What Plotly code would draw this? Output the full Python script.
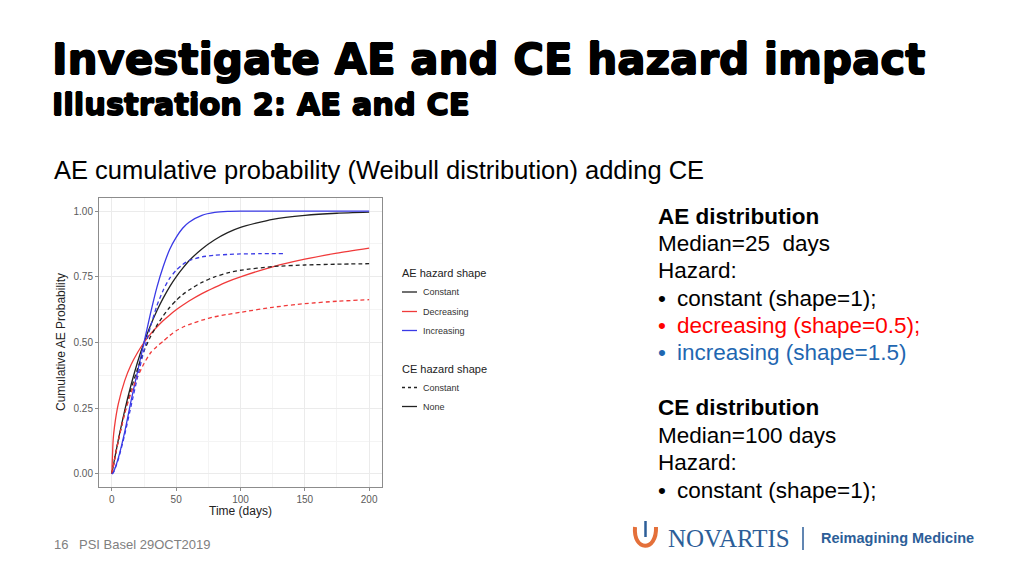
import plotly.graph_objects as go

# ---------------- data ----------------
time_days = [0, 1, 2, 5, 10, 15, 20, 25, 30, 35, 40, 45, 50, 55, 60, 70, 80, 90, 100, 125, 150, 175, 200]

ae_constant_no_ce = [0, 0.027, 0.054, 0.129, 0.242, 0.340, 0.426, 0.500, 0.565, 0.621, 0.670, 0.713, 0.750,
                     0.782, 0.811, 0.856, 0.891, 0.918, 0.938, 0.969, 0.984, 0.992, 0.996]
ae_decreasing_no_ce = [0, 0.129, 0.178, 0.266, 0.355, 0.416, 0.462, 0.500, 0.532, 0.559, 0.584, 0.605, 0.625,
                       0.642, 0.658, 0.686, 0.710, 0.732, 0.750, 0.788, 0.817, 0.840, 0.859]
ae_increasing_no_ce = [0, 0.005, 0.016, 0.060, 0.160, 0.280, 0.390, 0.500, 0.610, 0.710, 0.790, 0.855, 0.900,
                       0.935, 0.958, 0.984, 0.995, 0.999, 1.0, 1.0, 1.0, 1.0, 1.0]
ae_constant_ce = [0, 0.027, 0.054, 0.127, 0.234, 0.324, 0.400, 0.468, 0.522, 0.565, 0.602, 0.634, 0.660,
                  0.682, 0.700, 0.729, 0.750, 0.765, 0.775, 0.789, 0.795, 0.798, 0.800]
ae_decreasing_ce = [0, 0.025, 0.050, 0.125, 0.230, 0.310, 0.370, 0.420, 0.460, 0.485, 0.505, 0.527, 0.545,
                    0.558, 0.568, 0.585, 0.598, 0.607, 0.615, 0.634, 0.648, 0.657, 0.663]
time_days_inc_ce = [0, 1, 2, 5, 10, 15, 20, 25, 30, 35, 40, 45, 50, 55, 60, 70, 80, 90, 100, 115, 133]
ae_increasing_ce = [0, 0.004, 0.014, 0.055, 0.150, 0.260, 0.370, 0.470, 0.560, 0.640, 0.700, 0.745, 0.775,
                    0.797, 0.812, 0.826, 0.832, 0.835, 0.837, 0.838, 0.838]

x_ticks = [0, 50, 100, 150, 200]
y_ticks = [0, 0.25, 0.5, 0.75, 1.0]
y_tick_labels = ["0.00", "0.25", "0.50", "0.75", "1.00"]

W, H = 1024, 576
def px(x):
    return x / W
def py(y):
    return 1 - y / H

BLACK = "#222222"
RED = "#F03A3A"
BLUE = "#3A3AE6"
DASH = "4px,3px"

fig = go.Figure()

series = [
    (time_days, ae_constant_no_ce, BLACK, "solid"),
    (time_days, ae_decreasing_no_ce, RED, "solid"),
    (time_days, ae_increasing_no_ce, BLUE, "solid"),
    (time_days, ae_constant_ce, BLACK, DASH),
    (time_days, ae_decreasing_ce, RED, DASH),
    (time_days_inc_ce, ae_increasing_ce, BLUE, DASH),
]
for xs, ys, col, dash in series:
    fig.add_trace(go.Scatter(x=xs, y=ys, mode="lines", line=dict(color=col, width=1.3, dash=dash, shape="spline",
                                                                  smoothing=0.6),
                             showlegend=False, hoverinfo="skip"))

axis_font = dict(family="Liberation Sans, Arial, sans-serif", size=10, color="#5a5a5a")
fig.update_layout(
    width=W, height=H,
    margin=dict(l=0, r=0, t=0, b=0),
    paper_bgcolor="white", plot_bgcolor="white",
    xaxis=dict(domain=[px(99), px(382)], range=[-10, 210], tickvals=x_ticks,
               showgrid=True, gridcolor="#ebebeb", gridwidth=1,
               minor=dict(dtick=25, tick0=0, showgrid=True, gridcolor="#f4f4f4", gridwidth=0.6),
               showline=True, mirror=True, linecolor="#8c8c8c", linewidth=1,
               ticks="outside", ticklen=3, tickcolor="#8c8c8c", tickfont=axis_font, zeroline=False),
    yaxis=dict(domain=[py(487), py(198)], range=[-0.05, 1.05], tickvals=y_ticks, ticktext=y_tick_labels,
               showgrid=True, gridcolor="#ebebeb", gridwidth=1,
               minor=dict(dtick=0.125, tick0=0, showgrid=True, gridcolor="#f4f4f4", gridwidth=0.6),
               showline=True, mirror=True, linecolor="#8c8c8c", linewidth=1,
               ticks="outside", ticklen=3, tickcolor="#8c8c8c", tickfont=axis_font, zeroline=False),
)

ann = []
def text(x, y, s, size, color="black", family="Liberation Sans, Arial, sans-serif", xanchor="left",
         angle=0, bold=False, shadow=None):
    if bold:
        s = "<b>" + s + "</b>"
    f = dict(size=size, color=color, family=family)
    if shadow:
        f["shadow"] = shadow
    ann.append(dict(x=px(x), y=py(y), xref="paper", yref="paper", text=s, showarrow=False,
                    xanchor=xanchor, yanchor="middle", textangle=angle, font=f))

heavy = "0.8px 0 0 #000, -0.8px 0 0 #000, 0 0.8px 0 #000, 0 -0.8px 0 #000"

# titles
text(50, 59, "Investigate AE and CE hazard impact", 42, "black", "DejaVu Sans", bold=True, shadow=heavy)
text(50, 104, "Illustration 2: AE and CE", 30.5, "black", "DejaVu Sans", bold=True, shadow=heavy)
text(52, 170, "AE cumulative probability (Weibull distribution) adding CE", 25.5)

# axis titles
text(61, 342, "Cumulative AE Probability", 12, "#222222", xanchor="center", angle=-90)
text(240, 511, "Time (days)", 12, "#222222", xanchor="center")

# legend
shapes = []
text(400, 273, "AE hazard shape", 11, "#222222")
leg_items = [(292, "Constant", BLACK, "solid"), (311.5, "Decreasing", RED, "solid"),
             (330.5, "Increasing", BLUE, "solid")]
text(400, 369, "CE hazard shape", 11, "#222222")
leg_items += [(387.5, "Constant", BLACK, "dash"), (406.5, "None", BLACK, "solid")]
for y, lab, col, d in leg_items:
    shapes.append(dict(type="line", xref="paper", yref="paper", x0=px(402), x1=px(417), y0=py(y), y1=py(y),
                       line=dict(color=col, width=1.3, dash="3px,3px" if d == "dash" else "solid")))
    text(421, y, lab, 9, "#333333")

# right panel text
rp_font = 22.5
text(656, 216, "AE distribution", rp_font, bold=True)
text(656, 243, "Median=25  days", rp_font)
text(656, 270, "Hazard:", rp_font)
bullets = [(298, "constant (shape=1);", "black"), (325, "decreasing (shape=0.5);", "#FF0000"),
           (352, "increasing (shape=1.5)", "#1F67B1")]
text(656, 407, "CE distribution", rp_font, bold=True)
text(656, 435, "Median=100 days", rp_font)
text(656, 462, "Hazard:", rp_font)
bullets.append((490, "constant (shape=1);", "black"))
for y, s, col in bullets:
    text(656, y, "•", rp_font, col)
    text(675, y, s, rp_font, col)

# footer
text(52, 544, "16", 13, "#808080")
text(77, 544, "PSI Basel 29OCT2019", 13, "#808080")

# Novartis logo (approximate)
shapes.append(dict(type="path", xref="paper", yref="paper",
                   path=f"M {px(635)} {py(527)} C {px(633)} {py(552)}, {px(657)} {py(552)}, {px(656)} {py(527)}",
                   line=dict(color="#E4703A", width=4)))
shapes.append(dict(type="line", xref="paper", yref="paper", x0=px(645.5), x1=px(645.5), y0=py(521), y1=py(537),
                   line=dict(color="#2C5E98", width=2.5)))
text(666, 538, "NOVARTIS", 25, "#2C5E98", "Liberation Serif, Times New Roman, serif")
shapes.append(dict(type="line", xref="paper", yref="paper", x0=px(803), x1=px(803), y0=py(527), y1=py(550),
                   line=dict(color="#2C5E98", width=1.5)))
text(819, 538, "Reimagining Medicine", 14.5, "#2C5E98", bold=True)

fig.update_layout(annotations=ann, shapes=shapes)
fig.write_html("out.html", config={"displayModeBar": False},
               post_script="document.body.style.margin='0';document.body.style.overflow='hidden';")
